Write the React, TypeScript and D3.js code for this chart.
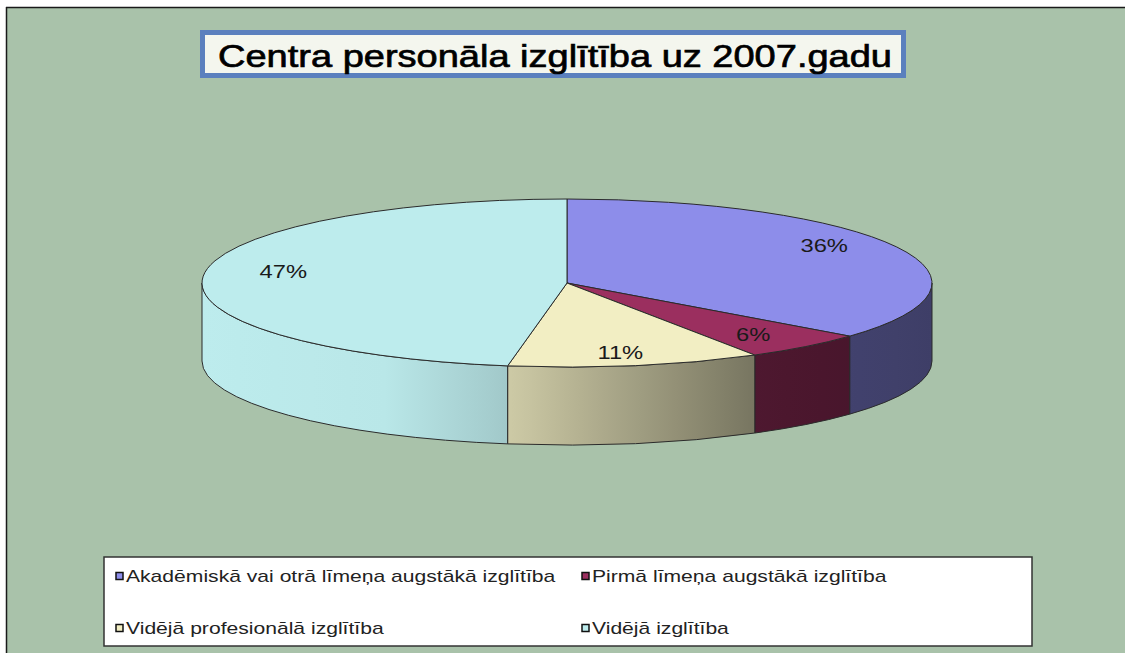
import React from "react";
import * as d3 from "d3";

const categories = [
  "Akadēmiskā vai otrā līmeņa augstākā izglītība",
  "Pirmā līmeņa augstākā izglītība",
  "Vidējā profesionālā izglītība",
  "Vidējā izglītība",
];
const values = [35.9, 5.5, 11.2, 47.4];
const colors = ["#8D8DEA", "#9B2F5F", "#F2EEC3", "#BDECED"];
const title = "Centra personāla izglītība uz 2007.gadu";

const W = 1125;
const H = 653;
const cx = 567;
const cy = 283;
const rx = 365;
const ry = 84;
const depth = 78;
const stretch = 1.32;

const pt = (a: number, dy = 0): [number, number] => [
  cx + rx * Math.sin(a),
  cy - ry * Math.cos(a) + dy,
];

export default function App() {
  const pie = d3.pie<number>().sort(null).value((d) => d)(values);
  const total = d3.sum(values);
  const shade = d3
    .scaleLinear<number>()
    .domain([0, 0.25, 0.42, 0.75, 1])
    .range([1.0, 0.98, 0.85, 0.5, 0.44])
    .clamp(true);
  const stopsT = d3.range(0, 1.0001, 0.05);

  const topPath = (a0: number, a1: number) => {
    const p0 = pt(a0);
    const p1 = pt(a1);
    const large = a1 - a0 > Math.PI ? 1 : 0;
    return `M${cx},${cy}L${p0[0]},${p0[1]}A${rx},${ry} 0 ${large} 1 ${p1[0]},${p1[1]}Z`;
  };
  const sidePath = (a0: number, a1: number) => {
    const s = Math.max(a0, Math.PI / 2);
    const e = Math.min(a1, (3 * Math.PI) / 2);
    if (e <= s) return null;
    const p0 = pt(s);
    const p1 = pt(e);
    const q1 = pt(e, depth);
    const q0 = pt(s, depth);
    return `M${p0[0]},${p0[1]}A${rx},${ry} 0 0 1 ${p1[0]},${p1[1]}L${q1[0]},${q1[1]}A${rx},${ry} 0 0 0 ${q0[0]},${q0[1]}Z`;
  };

  const legendCols = [116, 582];
  const legendRows = [576, 628];

  return (
    <svg
      width={W}
      height={H}
      style={{ position: "absolute", left: 0, top: 0, display: "block" }}
      fontFamily="'Liberation Sans', Arial, sans-serif"
    >
      <defs>
        {colors.map((c, i) => (
          <linearGradient
            key={i}
            id={`side${i}`}
            gradientUnits="userSpaceOnUse"
            x1={cx - rx}
            x2={cx + rx}
            y1={0}
            y2={0}
          >
            {stopsT.map((t, j) => {
              const base = d3.rgb(c);
              const f = shade(t);
              const col = d3.rgb(base.r * f, base.g * f, base.b * f);
              return <stop key={j} offset={t} stopColor={col.formatHex()} />;
            })}
          </linearGradient>
        ))}
      </defs>
      <rect x={0} y={0} width={W} height={H} fill="#ffffff" />
      <rect x={7} y={8} width={W - 7} height={H - 8} fill="#A9C2AA" />
      <line x1={6.5} y1={7} x2={6.5} y2={H} stroke="#1a1a1a" strokeWidth={1.5} />
      <line x1={6} y1={7.5} x2={W} y2={7.5} stroke="#1a1a1a" strokeWidth={1.5} />

      {/* title */}
      <rect x={202.5} y={32.5} width={701} height={43} fill="#F4F6EE" stroke="#5B80BE" strokeWidth={5} />
      <text
        x={218}
        y={67}
        fontSize={32}
        fill="#000"
        stroke="#000"
        strokeWidth={0.7}
        textLength={674}
        lengthAdjust="spacingAndGlyphs"
      >
        {title}
      </text>

      {/* sides */}
      {pie.map((d, i) => {
        const p = sidePath(d.startAngle, d.endAngle);
        return p ? (
          <path key={`s${i}`} d={p} fill={`url(#side${i})`} stroke="#2b2b2b" strokeWidth={1} />
        ) : null;
      })}
      {/* tops */}
      {pie.map((d, i) => (
        <path key={`t${i}`} d={topPath(d.startAngle, d.endAngle)} fill={colors[i]} stroke="#2b2b2b" strokeWidth={1} />
      ))}
      {/* labels */}
      {pie.map((d, i) => {
        const m = (d.startAngle + d.endAngle) / 2;
        const x = cx + 0.78 * rx * Math.sin(m);
        const y = cy - 0.9 * ry * Math.cos(m) - 5;
        return (
          <g key={`l${i}`} transform={`translate(${x},${y}) scale(${stretch},1)`}>
            <text dy="0.35em" textAnchor="middle" fontSize={18} fill="#1a1a1a">
              {`${Math.round((d.data / total) * 100)}%`}
            </text>
          </g>
        );
      })}

      {/* legend */}
      <rect x={104} y={557} width={928} height={89} fill="#ffffff" stroke="#333" strokeWidth={1.5} />
      {categories.map((c, i) => {
        const x = legendCols[i % 2];
        const y = legendRows[Math.floor(i / 2)];
        return (
          <g key={`g${i}`}>
            <rect x={x} y={y - 3.5} width={7} height={7} fill={colors[i]} stroke="#111" strokeWidth={1.5} />
            <g transform={`translate(${x + 10},${y}) scale(${stretch},1)`}>
              <text dy="0.36em" fontSize={16} fill="#222">
                {c}
              </text>
            </g>
          </g>
        );
      })}
    </svg>
  );
}
